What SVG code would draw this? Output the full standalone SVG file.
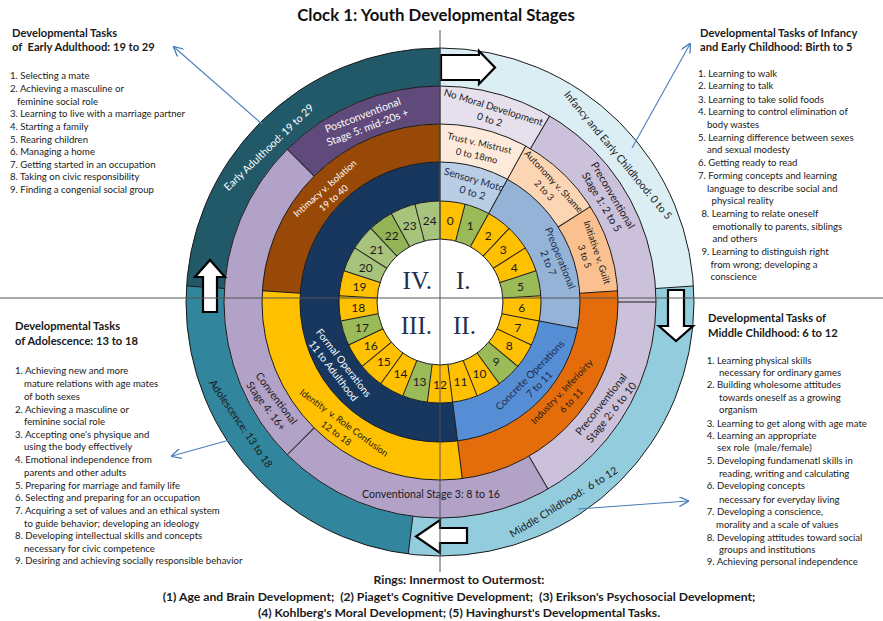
<svg xmlns="http://www.w3.org/2000/svg" width="883" height="621" viewBox="0 0 883 621">
<style>
text{font-family:Lato,"Liberation Sans",sans-serif;fill:#1a1a1a}
.ti{font-size:16.8px;font-weight:bold;fill:#111;text-anchor:middle}
.h{font-size:11.2px;font-weight:bold}
.li{font-size:9.6px}
.ft{font-size:12.2px;font-weight:bold;text-anchor:middle;white-space:pre}
.num{font-size:12px;text-anchor:middle;dominant-baseline:central}
.q{font-family:"Liberation Serif",serif;font-size:25px;fill:#1F2F4F}
.lb{font-size:10.6px;text-anchor:middle;dominant-baseline:central}
.le{font-size:9.3px;text-anchor:middle;dominant-baseline:central}
.lp{font-size:10.2px;text-anchor:middle;dominant-baseline:central;fill:#1c2c48}
.w{fill:#fff}
.sa{fill:none;stroke-width:38}
.sb{fill:none;stroke-width:39}
.y{stroke:#FFC000}.g{stroke:#9BBB59}.g2{stroke:#A8C47C}.g3{stroke:#93B356}
.bd use{stroke:#1a1a1a;stroke-width:1}
.ol{fill:none;stroke:#1a1a1a;stroke-width:1}
.ax{stroke:#555;stroke-width:1}
.ba{fill:#fff;stroke:#000;stroke-width:2.2}
.con{stroke:#4A7EBB;stroke-width:1.1;fill:none;marker-end:url(#ah)}
</style>
<defs>
<circle id="rA" cx="440" cy="302" r="82" pathLength="360" transform="rotate(-90 440 302)"/>
<circle id="rB" cx="440" cy="302" r="120.5" pathLength="360" transform="rotate(-90 440 302)"/>
<circle id="rC" cx="440" cy="302" r="159" pathLength="360" transform="rotate(-90 440 302)"/>
<circle id="rD" cx="440" cy="302" r="197" pathLength="360" transform="rotate(-90 440 302)"/>
<circle id="rE" cx="440" cy="302" r="235" pathLength="360" transform="rotate(-90 440 302)"/>
<line id="lA" x1="440" y1="239" x2="440" y2="201"/>
<line id="lB" x1="440" y1="201" x2="440" y2="162"/>
<line id="lC" x1="440" y1="162" x2="440" y2="124"/>
<line id="lD" x1="440" y1="124" x2="440" y2="86"/>
<line id="lE" x1="440" y1="86" x2="440" y2="48"/>
<marker id="ah" viewBox="0 0 10 10" refX="9" refY="5" markerWidth="10" markerHeight="10" orient="auto" markerUnits="userSpaceOnUse"><path d="M0,0 L10,5 L0,10" fill="none" stroke="#4A7EBB" stroke-width="1.3"/></marker>
</defs>
<rect width="883" height="621" fill="#fff"/>
<text id="title" class="ti" x="436" y="21">Clock 1: Youth Developmental Stages</text>

<!-- Ring 5: Havinghurst -->
<g id="hav-infancy"><use href="#rE" class="sa" stroke="#DBEEF4" stroke-dasharray="86.4 360"/>
<text class="lb" transform="rotate(50.5 440 302) translate(440 71)">Infancy and Early Childhood: 0 to 5</text></g>
<g id="hav-middle"><use href="#rE" class="sa" stroke="#93CDDD" stroke-dasharray="100.8 360" stroke-dashoffset="-86.4"/>
<text class="lb" style="white-space:pre" transform="rotate(148.3 440 302) translate(440 67) rotate(180)">Middle Childhood:  6 to 12</text></g>
<g id="hav-adolescence"><use href="#rE" class="sa" stroke="#31859C" stroke-dasharray="86.4 360" stroke-dashoffset="-187.2"/>
<text class="lb" transform="rotate(238.6 440 302) translate(440 69) rotate(177.2)">Adolescence: 13 to 18</text></g>
<g id="hav-early-adulthood"><use href="#rE" class="sa" stroke="#215968" stroke-dasharray="86.4 360" stroke-dashoffset="-273.6"/>
<text class="lb w" transform="rotate(312.1 440 302) translate(440 71) rotate(4)">Early Adulthood: 19 to 29</text></g>

<!-- Ring 4: Kohlberg -->
<g id="kohl-none"><use href="#rD" class="sa" stroke="#E6E0EC" stroke-dasharray="30.5 360"/>
<text class="lb" style="font-size:10px" transform="rotate(15.3 440 302) translate(440 106) rotate(2)"><tspan x="0" y="-6.5">No Moral Development</tspan><tspan x="0" y="6.5">0 to 2</tspan></text></g>
<g id="kohl-pre1"><use href="#rD" class="sa" stroke="#CCC1DA" stroke-dasharray="59.5 360" stroke-dashoffset="-30.5"/>
<text class="lb" transform="rotate(58.3 440 302) translate(440 105) rotate(1)"><tspan x="0" y="-6.5">Preconventional</tspan><tspan x="0" y="6.5">Stage 1: 2 to 5</tspan></text></g>
<g id="kohl-pre2"><use href="#rD" class="sa" stroke="#CCC1DA" stroke-dasharray="60 360" stroke-dashoffset="-90"/>
<text class="lb" transform="rotate(122.6 440 302) translate(440 105) rotate(186)"><tspan x="0" y="-6.5">Preconventional</tspan><tspan x="0" y="6.5">Stage 2: 6 to 10</tspan></text></g>
<g id="kohl-conv3"><use href="#rD" class="sa" stroke="#B3A2C7" stroke-dasharray="75 360" stroke-dashoffset="-150"/>
<text class="lb" x="431" y="494">Conventional Stage 3: 8 to 16</text></g>
<g id="kohl-conv4"><use href="#rD" class="sa" stroke="#B3A2C7" stroke-dasharray="90 360" stroke-dashoffset="-225"/>
<text class="lb" transform="rotate(239.3 440 302) translate(440 106) rotate(174)"><tspan x="0" y="-6.5">Conventional</tspan><tspan x="0" y="6.5">Stage 4: 16+</tspan></text></g>
<g id="kohl-post5"><use href="#rD" class="sa" stroke="#604A7B" stroke-dasharray="45 360" stroke-dashoffset="-315"/>
<text class="lb w" transform="rotate(337.5 440 302) translate(440 106) rotate(1.5)"><tspan x="0" y="-6.5">Postconventional</tspan><tspan x="0" y="6.5">Stage 5: mid-20s +</tspan></text></g>

<!-- Ring 3: Erikson -->
<g id="erik-trust"><use href="#rC" class="sa" stroke="#FDEADA" stroke-dasharray="28.8 360"/>
<text class="le" transform="rotate(14 440 302) translate(440 144) rotate(-1)"><tspan x="0" y="-6.5">Trust v. Mistrust</tspan><tspan x="0" y="6.5">0 to 18mo</tspan></text></g>
<g id="erik-autonomy"><use href="#rC" class="sa" stroke="#FCD5B5" stroke-dasharray="28.8 360" stroke-dashoffset="-28.8"/>
<text class="le" transform="rotate(43.2 440 302) translate(440 142) rotate(4)"><tspan x="0" y="-6.5">Autonomy v. Shame</tspan><tspan x="0" y="6.5">2 to 3</tspan></text></g>
<g id="erik-initiative"><use href="#rC" class="sa" stroke="#FAC090" stroke-dasharray="28.8 360" stroke-dashoffset="-57.6"/>
<text class="le" transform="rotate(72.5 440 302) translate(440 143) rotate(-1)"><tspan x="0" y="-6.5">Initiative v. Guilt</tspan><tspan x="0" y="6.5">3 to 5</tspan></text></g>
<g id="erik-industry"><use href="#rC" class="sa" stroke="#E46C0A" stroke-dasharray="86.4 360" stroke-dashoffset="-86.4"/>
<text class="le" transform="rotate(126.6 440 302) translate(440 145) rotate(187)"><tspan x="0" y="-6.5">Industry v. Inferioirty</tspan><tspan x="0" y="6.5">6 to 11</tspan></text></g>
<g id="erik-identity"><use href="#rC" class="sa" stroke="#FFC000" stroke-dasharray="100.8 360" stroke-dashoffset="-172.8"/>
<text class="le" style="white-space:pre" transform="rotate(218.4 440 302) translate(440 142) rotate(178)"><tspan x="0" y="-6.5">Identity  v. Role Confusion</tspan><tspan x="0" y="6.5">12 to 18</tspan></text></g>
<g id="erik-intimacy"><use href="#rC" class="sa" stroke="#984807" stroke-dasharray="86.4 360" stroke-dashoffset="-273.6"/>
<text class="le w" transform="rotate(314.5 440 302) translate(440 146) rotate(4)"><tspan x="0" y="-6.5">Intimacy v. Isolation</tspan><tspan x="0" y="6.5">19 to 40</tspan></text></g>

<!-- Ring 2: Piaget -->
<g id="piaget-sensory"><use href="#rB" class="sb" stroke="#B9CDE5" stroke-dasharray="28.8 360"/>
<text class="lp" transform="rotate(16.5 440 302) translate(440 181)"><tspan x="0" y="-6.5">Sensory Motor</tspan><tspan x="0" y="6.5">0 to 2</tspan></text></g>
<g id="piaget-preop"><use href="#rB" class="sb" stroke="#95B3D7" stroke-dasharray="72 360" stroke-dashoffset="-28.8"/>
<text class="lp" transform="rotate(70 440 302) translate(440 180) rotate(-2)"><tspan x="0" y="-6.5">Preoperational</tspan><tspan x="0" y="6.5">2 to 7</tspan></text></g>
<g id="piaget-concrete"><use href="#rB" class="sb" stroke="#558ED5" stroke-dasharray="72 360" stroke-dashoffset="-100.8"/>
<text class="lp" transform="rotate(129.4 440 302) translate(440 180) rotate(185)"><tspan x="0" y="-6.5">Concrete Operations</tspan><tspan x="0" y="6.5">7 to 11</tspan></text></g>
<g id="piaget-formal"><use href="#rB" class="sb" stroke="#17375E" stroke-dasharray="187.2 360" stroke-dashoffset="-172.8"/>
<text class="lp w" transform="rotate(237.4 440 302) translate(440 182) rotate(175)"><tspan x="0" y="-6.5">Formal Operations</tspan><tspan x="0" y="6.5">11 to Adulthood</tspan></text></g>

<!-- Ring 1: Age -->
<g id="age-0"><use href="#rA" class="sa y" stroke-dasharray="14.4 360"/><text class="num" transform="rotate(7.2 440 302) translate(440 220) rotate(-7.2)">0</text></g>
<g id="age-1"><use href="#rA" class="sa g" stroke-dasharray="14.4 360" stroke-dashoffset="-14.4"/><text class="num" transform="rotate(21.6 440 302) translate(440 220) rotate(-21.6)">1</text></g>
<g id="age-2"><use href="#rA" class="sa y" stroke-dasharray="14.4 360" stroke-dashoffset="-28.8"/><text class="num" transform="rotate(36 440 302) translate(440 220) rotate(-36)">2</text></g>
<g id="age-3"><use href="#rA" class="sa y" stroke-dasharray="14.4 360" stroke-dashoffset="-43.2"/><text class="num" transform="rotate(50.4 440 302) translate(440 220) rotate(-50.4)">3</text></g>
<g id="age-4"><use href="#rA" class="sa y" stroke-dasharray="14.4 360" stroke-dashoffset="-57.6"/><text class="num" transform="rotate(64.8 440 302) translate(440 220) rotate(-64.8)">4</text></g>
<g id="age-5"><use href="#rA" class="sa g" stroke-dasharray="14.4 360" stroke-dashoffset="-72"/><text class="num" transform="rotate(79.2 440 302) translate(440 220) rotate(-79.2)">5</text></g>
<g id="age-6"><use href="#rA" class="sa y" stroke-dasharray="14.4 360" stroke-dashoffset="-86.4"/><text class="num" transform="rotate(93.6 440 302) translate(440 220) rotate(-93.6)">6</text></g>
<g id="age-7"><use href="#rA" class="sa y" stroke-dasharray="14.4 360" stroke-dashoffset="-100.8"/><text class="num" transform="rotate(108 440 302) translate(440 220) rotate(-108)">7</text></g>
<g id="age-8"><use href="#rA" class="sa y" stroke-dasharray="14.4 360" stroke-dashoffset="-115.2"/><text class="num" transform="rotate(122.4 440 302) translate(440 220) rotate(-122.4)">8</text></g>
<g id="age-9"><use href="#rA" class="sa g" stroke-dasharray="14.4 360" stroke-dashoffset="-129.6"/><text class="num" transform="rotate(136.8 440 302) translate(440 220) rotate(-136.8)">9</text></g>
<g id="age-10"><use href="#rA" class="sa y" stroke-dasharray="14.4 360" stroke-dashoffset="-144"/><text class="num" transform="rotate(151.2 440 302) translate(440 220) rotate(-151.2)">10</text></g>
<g id="age-11"><use href="#rA" class="sa y" stroke-dasharray="14.4 360" stroke-dashoffset="-158.4"/><text class="num" transform="rotate(165.6 440 302) translate(440 220) rotate(-165.6)">11</text></g>
<g id="age-12"><use href="#rA" class="sa y" stroke-dasharray="14.4 360" stroke-dashoffset="-172.8"/><text class="num" transform="rotate(180 440 302) translate(440 220) rotate(-180)">12</text></g>
<g id="age-13"><use href="#rA" class="sa g" stroke-dasharray="14.4 360" stroke-dashoffset="-187.2"/><text class="num" transform="rotate(194.4 440 302) translate(440 220) rotate(-194.4)">13</text></g>
<g id="age-14"><use href="#rA" class="sa y" stroke-dasharray="14.4 360" stroke-dashoffset="-201.6"/><text class="num" transform="rotate(208.8 440 302) translate(440 220) rotate(-208.8)">14</text></g>
<g id="age-15"><use href="#rA" class="sa y" stroke-dasharray="14.4 360" stroke-dashoffset="-216"/><text class="num" transform="rotate(223.2 440 302) translate(440 220) rotate(-223.2)">15</text></g>
<g id="age-16"><use href="#rA" class="sa y" stroke-dasharray="14.4 360" stroke-dashoffset="-230.4"/><text class="num" transform="rotate(237.6 440 302) translate(440 220) rotate(-237.6)">16</text></g>
<g id="age-17"><use href="#rA" class="sa g" stroke-dasharray="14.4 360" stroke-dashoffset="-244.8"/><text class="num" transform="rotate(252 440 302) translate(440 220) rotate(-252)">17</text></g>
<g id="age-18"><use href="#rA" class="sa y" stroke-dasharray="14.4 360" stroke-dashoffset="-259.2"/><text class="num" transform="rotate(266.4 440 302) translate(440 220) rotate(-266.4)">18</text></g>
<g id="age-19"><use href="#rA" class="sa y" stroke-dasharray="14.4 360" stroke-dashoffset="-273.6"/><text class="num" transform="rotate(280.8 440 302) translate(440 220) rotate(-280.8)">19</text></g>
<g id="age-20"><use href="#rA" class="sa g2" stroke-dasharray="14.4 360" stroke-dashoffset="-288"/><text class="num" transform="rotate(295.2 440 302) translate(440 220) rotate(-295.2)">20</text></g>
<g id="age-21"><use href="#rA" class="sa g2" stroke-dasharray="14.4 360" stroke-dashoffset="-302.4"/><text class="num" transform="rotate(309.6 440 302) translate(440 220) rotate(-309.6)">21</text></g>
<g id="age-22"><use href="#rA" class="sa g3" stroke-dasharray="14.4 360" stroke-dashoffset="-316.8"/><text class="num" transform="rotate(324 440 302) translate(440 220) rotate(-324)">22</text></g>
<g id="age-23"><use href="#rA" class="sa g2" stroke-dasharray="14.4 360" stroke-dashoffset="-331.2"/><text class="num" transform="rotate(338.4 440 302) translate(440 220) rotate(-338.4)">23</text></g>
<g id="age-24"><use href="#rA" class="sa g2" stroke-dasharray="14.4 360" stroke-dashoffset="-345.6"/><text class="num" transform="rotate(352.8 440 302) translate(440 220) rotate(-352.8)">24</text></g>

<!-- borders -->
<g id="ring-borders" class="bd">
<circle cx="440" cy="302" r="63" fill="#fff" stroke="#1a1a1a"/>
<circle class="ol" cx="440" cy="302" r="101"/>
<circle class="ol" cx="440" cy="302" r="140"/>
<circle class="ol" cx="440" cy="302" r="178"/>
<circle class="ol" cx="440" cy="302" r="216"/>
<circle class="ol" cx="440" cy="302" r="254"/>
<use href="#lA"/><use href="#lA" transform="rotate(14.4 440 302)"/><use href="#lA" transform="rotate(28.8 440 302)"/><use href="#lA" transform="rotate(43.2 440 302)"/><use href="#lA" transform="rotate(57.6 440 302)"/><use href="#lA" transform="rotate(72 440 302)"/><use href="#lA" transform="rotate(86.4 440 302)"/><use href="#lA" transform="rotate(100.8 440 302)"/><use href="#lA" transform="rotate(115.2 440 302)"/><use href="#lA" transform="rotate(129.6 440 302)"/><use href="#lA" transform="rotate(144 440 302)"/><use href="#lA" transform="rotate(158.4 440 302)"/><use href="#lA" transform="rotate(172.8 440 302)"/><use href="#lA" transform="rotate(187.2 440 302)"/><use href="#lA" transform="rotate(201.6 440 302)"/><use href="#lA" transform="rotate(216 440 302)"/><use href="#lA" transform="rotate(230.4 440 302)"/><use href="#lA" transform="rotate(244.8 440 302)"/><use href="#lA" transform="rotate(259.2 440 302)"/><use href="#lA" transform="rotate(273.6 440 302)"/><use href="#lA" transform="rotate(288 440 302)"/><use href="#lA" transform="rotate(302.4 440 302)"/><use href="#lA" transform="rotate(316.8 440 302)"/><use href="#lA" transform="rotate(331.2 440 302)"/><use href="#lA" transform="rotate(345.6 440 302)"/>
<use href="#lB"/><use href="#lB" transform="rotate(28.8 440 302)"/><use href="#lB" transform="rotate(100.8 440 302)"/><use href="#lB" transform="rotate(172.8 440 302)"/>
<use href="#lC"/><use href="#lC" transform="rotate(28.8 440 302)"/><use href="#lC" transform="rotate(57.6 440 302)"/><use href="#lC" transform="rotate(86.4 440 302)"/><use href="#lC" transform="rotate(172.8 440 302)"/><use href="#lC" transform="rotate(273.6 440 302)"/>
<use href="#lD"/><use href="#lD" transform="rotate(30.5 440 302)"/><use href="#lD" transform="rotate(90 440 302)"/><use href="#lD" transform="rotate(150 440 302)"/><use href="#lD" transform="rotate(225 440 302)"/><use href="#lD" transform="rotate(315 440 302)"/>
<use href="#lE"/><use href="#lE" transform="rotate(86.4 440 302)"/><use href="#lE" transform="rotate(187.2 440 302)"/><use href="#lE" transform="rotate(273.6 440 302)"/>
</g>

<g id="quadrants">
<text class="q" x="432" y="289" text-anchor="end">IV.</text>
<text class="q" x="456" y="289">I.</text>
<text class="q" x="432" y="334" text-anchor="end">III.</text>
<text class="q" x="453" y="334">II.</text>
</g>

<g id="flow-arrows">
<polygon class="ba" points="441,55 479,55 479,51 495,67.5 479,84 479,80 441,80"/>
<polygon class="ba" points="668,290 684,290 684,326 693,326 676,341 659,326 668,326"/>
<polygon class="ba" points="467,528 440,528 440,520 416,536.5 440,553 440,543 467,543"/>
<polygon class="ba" points="203,312 203,277 195,277 210,260 225,277 217,277 217,312"/>
</g>

<g id="axes">
<line class="ax" x1="440" y1="30" x2="440" y2="572"/>
<line class="ax" x1="0" y1="298" x2="883" y2="298"/>
</g>

<g id="panel-early-adulthood">
<text class="h" x="12" y="37">Developmental Tasks</text>
<text class="h" x="12" y="51" style="white-space:pre">of  Early Adulthood: 19 to 29</text>
<text class="li" x="10" y="79">1. Selecting a mate</text>
<text class="li" x="10" y="91.5">2. Achieving a masculine or</text>
<text class="li" x="17" y="104.5">feminine social role</text>
<text class="li" x="10" y="117.3">3. Learning to live with a marriage partner</text>
<text class="li" x="10" y="130">4. Starting a family</text>
<text class="li" x="10" y="142.6">5. Rearing children</text>
<text class="li" x="10" y="155">6. Managing a home</text>
<text class="li" x="10" y="167.6">7. Getting started in an occupation</text>
<text class="li" x="10" y="180">8. Taking on civic responsibility</text>
<text class="li" x="10" y="192.6">9. Finding a congenial social group</text>
</g>

<g id="panel-infancy">
<text class="h" x="700" y="37">Developmental Tasks of Infancy</text>
<text class="h" x="700" y="50.5">and Early Childhood: Birth to 5</text>
<text class="li" x="698" y="76.6">1. Learning to walk</text>
<text class="li" x="698" y="89.3">2. Learning to talk</text>
<text class="li" x="698" y="102.6">3. Learning to take solid foods</text>
<text class="li" x="698" y="115.3">4. Learning to control elimination of</text>
<text class="li" x="707" y="128">body wastes</text>
<text class="li" x="698" y="140.6">5. Learning difference between sexes</text>
<text class="li" x="707" y="153.3">and sexual modesty</text>
<text class="li" x="698" y="166">6. Getting ready to read</text>
<text class="li" x="698" y="178.6">7. Forming concepts and learning</text>
<text class="li" x="707" y="191.6">language to describe social and</text>
<text class="li" x="711.5" y="204.3">physical reality</text>
<text class="li" x="701.5" y="216.6">8. Learning to relate oneself</text>
<text class="li" x="712.5" y="230">emotionally to parents, siblings</text>
<text class="li" x="712.5" y="242.3">and others</text>
<text class="li" x="701.5" y="255">9. Learning to distinguish right</text>
<text class="li" x="710.5" y="267.6">from wrong; developing a</text>
<text class="li" x="710.5" y="280">conscience</text>
</g>

<g id="panel-adolescence">
<text class="h" x="15" y="330">Developmental Tasks</text>
<text class="h" x="15" y="344.5">of Adolescence: 13 to 18</text>
<text class="li" x="15" y="374.3">1. Achieving new and more</text>
<text class="li" x="24" y="387.3">mature relations with age mates</text>
<text class="li" x="24" y="400">of both sexes</text>
<text class="li" x="15" y="412.6">2. Achieving a masculine or</text>
<text class="li" x="24" y="425">feminine social role</text>
<text class="li" x="15" y="437.6">3. Accepting one's physique and</text>
<text class="li" x="24" y="450.3">using the body effectively</text>
<text class="li" x="15" y="463.3">4. Emotional independence from</text>
<text class="li" x="24" y="476">parents and other adults</text>
<text class="li" x="15" y="489">5. Preparing for marriage and family life</text>
<text class="li" x="15" y="501">6. Selecting and preparing for an occupation</text>
<text class="li" x="15" y="514.3">7. Acquiring a set of values and an ethical system</text>
<text class="li" x="24" y="526.6">to guide behavior; developing an ideology</text>
<text class="li" x="15" y="539.3">8. Developing intellectual skills and concepts</text>
<text class="li" x="24" y="552">necessary for civic competence</text>
<text class="li" x="15" y="564.3">9. Desiring and achieving socially responsible behavior</text>
</g>

<g id="panel-middle-childhood">
<text class="h" x="708" y="322">Developmental Tasks of</text>
<text class="h" x="708" y="337">Middle Childhood: 6 to 12</text>
<text class="li" x="706.7" y="364.3">1. Learning physical skills</text>
<text class="li" x="719" y="376">necessary for ordinary games</text>
<text class="li" x="706.7" y="388.3">2. Building wholesome attitudes</text>
<text class="li" x="719" y="401">towards oneself as a growing</text>
<text class="li" x="719" y="412.6">organism</text>
<text class="li" x="706.7" y="426.6">3. Learning to get along with age mate</text>
<text class="li" x="706.7" y="439">4. Learning an appropriate</text>
<text class="li" x="717" y="451" style="white-space:pre">sex role  (male/female)</text>
<text class="li" x="706.7" y="464.3">5. Developing fundamenatl skills in</text>
<text class="li" x="719" y="476.6">reading, writing and calculating</text>
<text class="li" x="706.7" y="489.3">6. Developing concepts</text>
<text class="li" x="719" y="502.6">necessary for everyday living</text>
<text class="li" x="706.7" y="515">7. Developing a conscience,</text>
<text class="li" x="716" y="527.6">morality and a scale of values</text>
<text class="li" x="706.7" y="540.6">8. Developing attitudes toward social</text>
<text class="li" x="719" y="552.6">groups and institutions</text>
<text class="li" x="706.7" y="565">9. Achieving personal independence</text>
</g>

<g id="connectors">
<line class="con" x1="262" y1="124" x2="174" y2="47"/>
<line class="con" x1="632" y1="148" x2="690" y2="44"/>
<line class="con" x1="233" y1="439" x2="172" y2="456"/>
<line class="con" x1="578" y1="509" x2="688" y2="501"/>
</g>

<g id="legend">
<text class="ft" x="459" y="584">Rings: Innermost to Outermost:</text>
<text class="ft" x="459" y="601">(1) Age and Brain Development;  (2) Piaget's Cognitive Development;  (3) Erikson's Psychosocial Development;</text>
<text class="ft" x="459" y="617">(4) Kohlberg's Moral Development; (5) Havinghurst's Developmental Tasks.</text>
</g>
</svg>
